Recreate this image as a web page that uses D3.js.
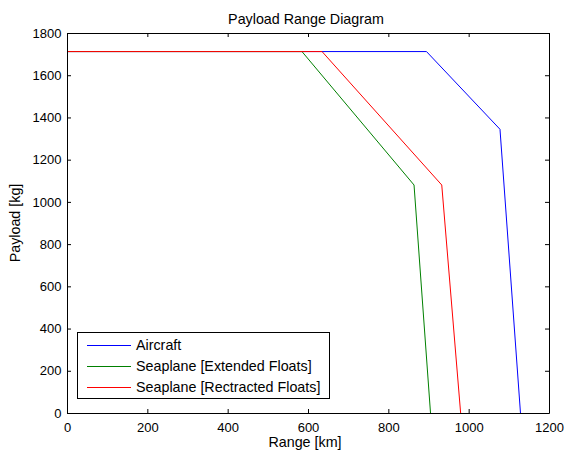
<!DOCTYPE html>
<html><head><meta charset="utf-8">
<script src="https://cdn.jsdelivr.net/npm/d3@7"></script>
<style>body{margin:0;background:#fff}svg text{font-family:Arial,"Liberation Sans",sans-serif}</style>
</head><body>
<svg id="c" width="565" height="454"></svg>
<script>
const seriesNames = ["Aircraft", "Seaplane [Extended Floats]", "Seaplane [Rectracted Floats]"];
const seriesColors = ["#0000ff", "#008000", "#ff0000"];
const aircraftRange = [0, 895, 1078, 1129];
const aircraftPayload = [1712, 1712, 1344, 0];
const extendedRange = [0, 585, 864, 905];
const extendedPayload = [1712, 1712, 1080, 0];
const retractedRange = [0, 635, 933, 980];
const retractedPayload = [1712, 1712, 1080, 0];
const xTicks = [0, 200, 400, 600, 800, 1000, 1200];
const yTicks = [0, 200, 400, 600, 800, 1000, 1200, 1400, 1600, 1800];

const svg = d3.select("#c");
const L = 67, R = 549, T = 33, B = 413;
const x = d3.scaleLinear().domain([0, 1200]).range([L, R]);
const y = d3.scaleLinear().domain([0, 1800]).range([B, T]);

svg.append("rect").attr("x", L).attr("y", T).attr("width", R - L).attr("height", B - T)
  .attr("fill", "#fff").attr("stroke", "none");

const series = [
  [aircraftRange, aircraftPayload],
  [extendedRange, extendedPayload],
  [retractedRange, retractedPayload]
];
const line = d3.line().x(d => x(d[0])).y(d => y(d[1]));
series.forEach((s, i) => {
  const pts = s[0].map((v, j) => [v, s[1][j]]);
  svg.append("path").attr("d", line(pts)).attr("fill", "none")
    .attr("stroke", seriesColors[i]).attr("stroke-width", 1);
});

const fs = 13;
const lfs = 14.3;
const fmt = d3.format("d");
const xAxisB = d3.axisBottom(x).tickValues(xTicks).tickFormat(fmt).tickSizeInner(-4).tickSizeOuter(0).tickPadding(9.5);
const gx = svg.append("g").attr("transform", `translate(0,${B})`).call(xAxisB);
const xAxisT = d3.axisTop(x).tickValues(xTicks).tickSizeInner(-4).tickSizeOuter(0).tickFormat("");
const gxt = svg.append("g").attr("transform", `translate(0,${T})`).call(xAxisT);
const yAxisL = d3.axisLeft(y).tickValues(yTicks).tickFormat(fmt).tickSizeInner(-4).tickSizeOuter(0).tickPadding(5.5);
const gy = svg.append("g").attr("transform", `translate(${L},0)`).call(yAxisL);
const yAxisR = d3.axisRight(y).tickValues(yTicks).tickSizeInner(-4).tickSizeOuter(0).tickFormat("");
const gyr = svg.append("g").attr("transform", `translate(${R},0)`).call(yAxisR);
[gx, gxt, gy, gyr].forEach(g => {
  g.select(".domain").attr("stroke", "#000");
  g.selectAll(".tick line").attr("stroke", "#000");
  g.selectAll("text").attr("font-size", fs).attr("fill", "#000")
    .attr("font-family", "Arial, 'Liberation Sans', sans-serif");
});

svg.append("text").attr("x", 306).attr("y", 23.5).attr("text-anchor", "middle")
  .attr("font-size", lfs).text("Payload Range Diagram");
svg.append("text").attr("x", 305).attr("y", 446.5).attr("text-anchor", "middle")
  .attr("font-size", lfs).text("Range [km]");
svg.append("text").attr("transform", `translate(20,${(T + B) / 2}) rotate(-90)`)
  .attr("text-anchor", "middle").attr("font-size", lfs).text("Payload [kg]");

// legend
const lg = svg.append("g");
lg.append("rect").attr("x", 77.5).attr("y", 332.5).attr("width", 252).attr("height", 66)
  .attr("fill", "#fff").attr("stroke", "#000");
seriesNames.forEach((n, i) => {
  const yy = 345 + i * 21;
  lg.append("line").attr("x1", 87).attr("x2", 131).attr("y1", yy + 0.5).attr("y2", yy + 0.5)
    .attr("stroke", seriesColors[i]);
  lg.append("text").attr("x", 136).attr("y", yy + 5).attr("font-size", lfs).text(n);
});
</script>
</body></html>
